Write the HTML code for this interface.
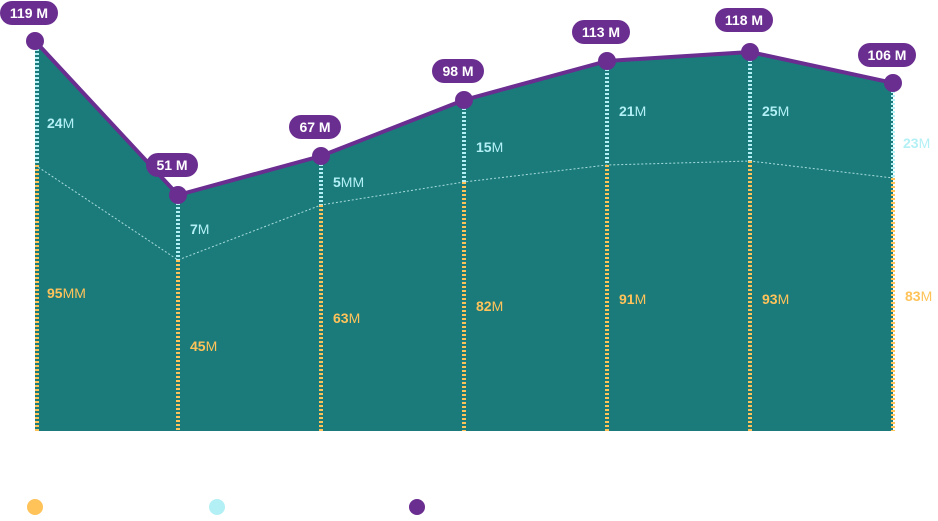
<!DOCTYPE html>
<html><head><meta charset="utf-8"><style>
body{margin:0;background:#fff;width:938px;height:516px;overflow:hidden;font-family:"Liberation Sans",sans-serif}
</style></head><body>
<svg width="938" height="516" xmlns="http://www.w3.org/2000/svg" font-family="Liberation Sans, sans-serif">
<polygon points="35,41 178,195 321,156 464,100 607,61 750,52 893,83 893,431 35,431" fill="#1b7b7b"/>
<polyline points="35,165 178,260 321,205 464,182 607,165 750,161 893,178" fill="none" stroke="#a9dcdc" stroke-width="1" stroke-dasharray="2,2"/>
<g stroke-width="4" stroke-dasharray="2,2">
<line x1="37" y1="41" x2="37" y2="165" stroke="#b3f0f5"/><line x1="37" y1="165" x2="37" y2="431" stroke="#ffc35a"/>
<line x1="178" y1="195" x2="178" y2="260" stroke="#b3f0f5"/><line x1="178" y1="260" x2="178" y2="431" stroke="#ffc35a"/>
<line x1="321" y1="156" x2="321" y2="205" stroke="#b3f0f5"/><line x1="321" y1="205" x2="321" y2="431" stroke="#ffc35a"/>
<line x1="464" y1="100" x2="464" y2="182" stroke="#b3f0f5"/><line x1="464" y1="182" x2="464" y2="431" stroke="#ffc35a"/>
<line x1="607" y1="61" x2="607" y2="165" stroke="#b3f0f5"/><line x1="607" y1="165" x2="607" y2="431" stroke="#ffc35a"/>
<line x1="750" y1="52" x2="750" y2="161" stroke="#b3f0f5"/><line x1="750" y1="161" x2="750" y2="431" stroke="#ffc35a"/>
<line x1="893" y1="83" x2="893" y2="178" stroke="#b3f0f5"/><line x1="893" y1="178" x2="893" y2="431" stroke="#ffc35a"/>
</g>
<polyline points="35,41 178,195 321,156 464,100 607,61 750,52 893,83" fill="none" stroke="#6a2d90" stroke-width="4" stroke-linejoin="round"/>
<g fill="#6a2d90">
<circle cx="35" cy="41" r="9"/><circle cx="178" cy="195" r="9"/><circle cx="321" cy="156" r="9"/><circle cx="464" cy="100" r="9"/><circle cx="607" cy="61" r="9"/><circle cx="750" cy="52" r="9"/><circle cx="893" cy="83" r="9"/>
<rect x="0" y="1" width="58" height="24" rx="12"/>
<rect x="146" y="153" width="52" height="24" rx="12"/>
<rect x="289" y="115" width="52" height="24" rx="12"/>
<rect x="432" y="59" width="52" height="24" rx="12"/>
<rect x="572" y="20" width="58" height="24" rx="12"/>
<rect x="715" y="8" width="58" height="24" rx="12"/>
<rect x="858" y="43" width="58" height="24" rx="12"/>
</g>
<g fill="#fff" font-size="14" font-weight="bold" text-anchor="middle">
<text x="29" y="18">119 M</text><text x="172" y="170">51 M</text><text x="315" y="132">67 M</text><text x="458" y="76">98 M</text><text x="601" y="37">113 M</text><text x="744" y="25">118 M</text><text x="887" y="60">106 M</text>
</g>
<g font-size="14" fill="#b3f0f5">
<text x="47" y="128"><tspan font-weight="bold">24</tspan>M</text>
<text x="190" y="234"><tspan font-weight="bold">7</tspan>M</text>
<text x="333" y="187"><tspan font-weight="bold">5</tspan>MM</text>
<text x="476" y="152"><tspan font-weight="bold">15</tspan>M</text>
<text x="619" y="116"><tspan font-weight="bold">21</tspan>M</text>
<text x="762" y="116"><tspan font-weight="bold">25</tspan>M</text>
<text x="903" y="148"><tspan font-weight="bold">23</tspan>M</text>
</g>
<g font-size="14" fill="#ffc35a">
<text x="47" y="298"><tspan font-weight="bold">95</tspan>MM</text>
<text x="190" y="351"><tspan font-weight="bold">45</tspan>M</text>
<text x="333" y="323"><tspan font-weight="bold">63</tspan>M</text>
<text x="476" y="311"><tspan font-weight="bold">82</tspan>M</text>
<text x="619" y="304"><tspan font-weight="bold">91</tspan>M</text>
<text x="762" y="304"><tspan font-weight="bold">93</tspan>M</text>
<text x="905" y="301"><tspan font-weight="bold">83</tspan>M</text>
</g>
<circle cx="35" cy="507" r="8" fill="#ffc35a"/>
<circle cx="217" cy="507" r="8" fill="#b3f0f5"/>
<circle cx="417" cy="507" r="8" fill="#6a2d90"/>
</svg>
</body></html>
